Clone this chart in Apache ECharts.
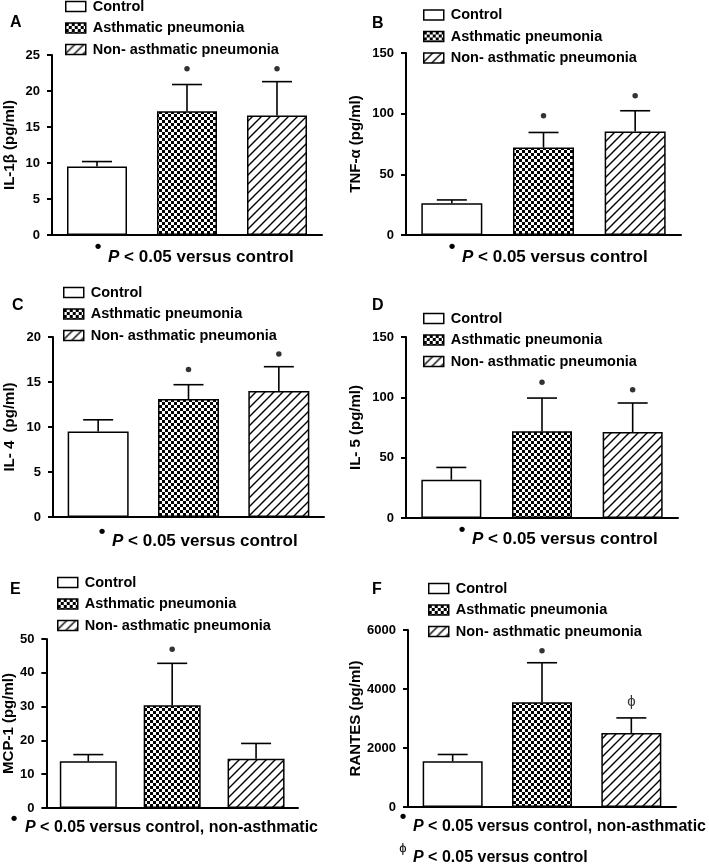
<!DOCTYPE html>
<html>
<head>
<meta charset="utf-8">
<script src="https://cdn.jsdelivr.net/npm/echarts@6/dist/echarts.min.js"></script>
<style>
html,body{margin:0;padding:0;background:#fff;}
#main{width:709px;height:866px;}
</style>
</head>
<body>
<div id="main"></div>
<script>
// ---- data ----
const groups = ['Control', 'Asthmatic pneumonia', 'Non- asthmatic pneumonia'];
const panelLetters = ['A', 'B', 'C', 'D', 'E', 'F'];
const yNames = ['IL-1\u03b2 (pg/ml)', 'TNF-\u03b1 (pg/ml)', 'IL- 4  (pg/ml)', 'IL- 5 (pg/ml)', 'MCP-1 (pg/ml)', 'RANTES (pg/ml)'];
const yMax = [25, 150, 20, 150, 50, 6000];
const yStep = [5, 50, 5, 50, 10, 2000];

const il1bMean = [9.5, 17.2, 16.6];
const il1bErr = [0.7, 3.7, 4.7];
const tnfMean = [26.2, 72.1, 85.3];
const tnfErr = [2.7, 12.4, 17.1];
const il4Mean = [9.5, 13.1, 14.0];
const il4Err = [1.3, 1.6, 2.7];
const il5Mean = [31.7, 71.8, 71.2];
const il5Err = [10.2, 27.6, 24.1];
const mcpMean = [13.8, 30.4, 14.6];
const mcpErr = [2.0, 12.4, 4.5];
const rantesMean = [1550, 3550, 2510];
const rantesErr = [230, 1340, 510];

// significance marks (value where the mark sits)
const dotA = [null, 23.1, 23.1];
const dotB = [null, 98.3, 114.8];
const dotC = [null, 16.4, 18.1];
const dotD = [null, 112.4, 106.3];
const dotE = [null, 47.0, null];
const dotF = [null, 5300, null];
const phiF = [null, null, 3570];

const footA = 'P < 0.05 versus control';
const footE = 'P < 0.05 versus control, non-asthmatic';

const means = [il1bMean, tnfMean, il4Mean, il5Mean, mcpMean, rantesMean];
const errs = [il1bErr, tnfErr, il4Err, il5Err, mcpErr, rantesErr];
const dots = [dotA, dotB, dotC, dotD, dotE, dotF];

// ---- layout ----
const grids = [
  {left: 52, top: 55, width: 270, height: 180},
  {left: 406, top: 53, width: 275, height: 182},
  {left: 53, top: 337, width: 271, height: 180},
  {left: 406, top: 337, width: 272, height: 181},
  {left: 44, top: 639, width: 254, height: 169},
  {left: 408, top: 630, width: 268, height: 177}
];
const barWidths = [60, 61, 61, 60, 57, 60];
const legendPos = [[60, -7], [418, 1.5], [58, 279], [418, 305], [52, 569], [423, 575]];
const letterPos = [[10, 15], [372, 16], [12, 298], [372, 298], [10, 582], [372, 582]];
const yNameCenterX = [9, 355, 9, 355, 8, 355];

// ---- patterns ----
function checker() {
  const c = document.createElement('canvas');
  c.width = 6; c.height = 6;
  const g = c.getContext('2d');
  g.fillStyle = '#fff'; g.fillRect(0, 0, 6, 6);
  g.fillStyle = '#000';
  g.fillRect(0, 0, 3, 3); g.fillRect(3, 3, 3, 3);
  return c;
}
function hatch() {
  const s = 9;
  const c = document.createElement('canvas');
  c.width = s; c.height = s;
  const g = c.getContext('2d');
  g.fillStyle = '#fff'; g.fillRect(0, 0, s, s);
  g.strokeStyle = '#000'; g.lineWidth = 1.4;
  g.beginPath();
  g.moveTo(-1, s + 1); g.lineTo(s + 1, -1);
  g.moveTo(-1, 1); g.lineTo(1, -1);
  g.moveTo(s - 1, s + 1); g.lineTo(s + 1, s - 1);
  g.stroke();
  return c;
}
const fills = ['#fff', {image: checker(), repeat: 'repeat'}, {image: hatch(), repeat: 'repeat'}];

const FONT = 'Liberation Sans, Arial, Helvetica, sans-serif';

const option = {
  animation: false,
  backgroundColor: '#fff',
  grid: [], xAxis: [], yAxis: [], series: [], legend: [], graphic: []
};

for (let p = 0; p < 6; p++) {
  option.grid.push(Object.assign({containLabel: false}, grids[p]));
  option.xAxis.push({
    type: 'category', gridIndex: p, data: groups,
    axisLine: {lineStyle: {color: '#000', width: 2}},
    axisTick: {show: false}, axisLabel: {show: false}
  });
  option.yAxis.push({
    type: 'value', gridIndex: p, min: 0, max: yMax[p], interval: yStep[p],
    name: yNames[p], nameLocation: 'middle',
    nameGap: grids[p].left - yNameCenterX[p] - 8,
    nameTextStyle: {color: '#000', fontFamily: FONT, fontWeight: 'bold', fontSize: 15},
    splitLine: {show: false},
    axisLine: {show: true, lineStyle: {color: '#000', width: 2}},
    axisTick: {show: true, length: 5, lineStyle: {color: '#000', width: 2}},
    axisLabel: {color: '#000', fontFamily: FONT, fontWeight: 'bold', fontSize: 13, margin: 12,
      formatter: v => String(v)}
  });
  // bars
  for (let g = 0; g < 3; g++) {
    const d = [null, null, null];
    d[g] = means[p][g];
    option.series.push({
      type: 'bar', name: groups[g], xAxisIndex: p, yAxisIndex: p,
      data: d, barWidth: barWidths[p], barGap: '-100%',
      itemStyle: {color: fills[g], borderColor: '#000', borderWidth: 1.5},
      z: 2
    });
  }
  // error bars
  option.series.push({
    type: 'custom', xAxisIndex: p, yAxisIndex: p, z: 3,
    data: means[p].map((m, i) => [i, m, m + errs[p][i]]),
    renderItem: function (params, api) {
      const a = api.coord([api.value(0), api.value(1)]);
      const b = api.coord([api.value(0), api.value(2)]);
      const hw = 15;
      return {
        type: 'group',
        children: [
          {type: 'line', shape: {x1: a[0], y1: a[1], x2: b[0], y2: b[1]}, style: {stroke: '#000', lineWidth: 1.6}},
          {type: 'line', shape: {x1: b[0] - hw, y1: b[1], x2: b[0] + hw, y2: b[1]}, style: {stroke: '#000', lineWidth: 1.6}}
        ]
      };
    }
  });
  // significance dots
  option.series.push({
    type: 'scatter', xAxisIndex: p, yAxisIndex: p, z: 4,
    data: dots[p].map((v, i) => [i, v]).filter(d => d[1] !== null),
    symbol: 'circle', symbolSize: 5.5,
    itemStyle: {color: '#000'}
  });
  // legends
  option.legend.push({
    left: legendPos[p][0], top: legendPos[p][1], orient: 'vertical',
    data: groups, selectedMode: false,
    icon: 'rect', itemWidth: 20, itemHeight: 10, itemGap: 4.5,
    itemStyle: {borderColor: '#000', borderWidth: 1.5},
    textStyle: {color: '#000', fontFamily: FONT, fontWeight: 'bold', fontSize: 14.5, lineHeight: 17, padding: [0, 0, 0, 2]}
  });
  // panel letter
  option.graphic.push({
    type: 'text', left: letterPos[p][0], top: letterPos[p][1],
    style: {text: panelLetters[p], fill: '#000', font: 'bold 16px ' + FONT}
  });
}
// phi mark in F
option.series.push({
  type: 'scatter', xAxisIndex: 5, yAxisIndex: 5, z: 4,
  data: phiF.map((v, i) => [i, v]).filter(d => d[1] !== null),
  symbolSize: 1, itemStyle: {color: 'rgba(0,0,0,0)'},
  label: {show: true, position: 'inside', formatter: '\u03d5', color: '#000', fontFamily: FONT, fontSize: 15}
});

// footnotes
const footnotes = [
  {bx: 98, by: 247, tx: 108, ty: 257, text: footA, size: 17},
  {bx: 452, by: 247, tx: 462, ty: 257, text: footA, size: 17},
  {bx: 102, by: 532, tx: 112, ty: 541.5, text: footA, size: 17},
  {bx: 462, by: 530, tx: 472, ty: 539, text: footA, size: 17},
  {bx: 14, by: 819, tx: 25, ty: 828, text: footE, size: 16},
  {bx: 403, by: 817, tx: 413, ty: 826.5, text: footE, size: 16}
];
footnotes.forEach(f => {
  option.graphic.push({
    type: 'text', x: f.bx, y: f.by,
    style: {text: '\u2022', fill: '#000', font: 'bold 19px ' + FONT, textAlign: 'center', textVerticalAlign: 'middle'}
  });
  option.graphic.push({
    type: 'text', x: f.tx, y: f.ty,
    style: {
      text: '{i|P}' + f.text.slice(1), fill: '#000', font: 'bold ' + f.size + 'px ' + FONT,
      textAlign: 'left', textVerticalAlign: 'middle',
      rich: {i: {fontStyle: 'italic', fontWeight: 'bold', fontSize: f.size, fontFamily: FONT}}
    }
  });
});
// second footnote in F
option.graphic.push({
  type: 'text', x: 403, y: 848,
  style: {text: '\u03d5', fill: '#000', font: '13px ' + FONT, textAlign: 'center', textVerticalAlign: 'middle'}
});
option.graphic.push({
  type: 'text', x: 413, y: 858,
  style: {
    text: '{i|P} < 0.05 versus control', fill: '#000', font: 'bold 16px ' + FONT,
    textAlign: 'left', textVerticalAlign: 'middle',
    rich: {i: {fontStyle: 'italic', fontWeight: 'bold', fontSize: 16, fontFamily: FONT}}
  }
});

const chart = echarts.init(document.getElementById('main'), null, {renderer: 'canvas'});
chart.setOption(option);
</script>
</body>
</html>
